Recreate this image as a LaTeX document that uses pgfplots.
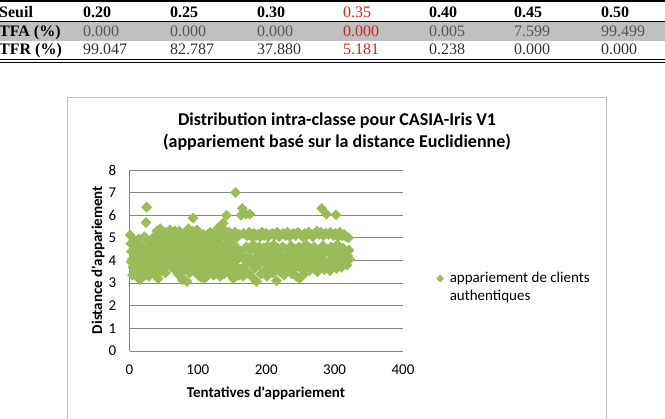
\documentclass[border=0pt]{standalone}
\usepackage{fontspec}
\setmainfont{Liberation Serif}
\newfontfamily\calibri{Carlito}
\usepackage{pgfplots}
\pgfplotsset{compat=1.18}
\definecolor{mk}{RGB}{155,187,89}
\definecolor{gridc}{RGB}{134,134,134}
\definecolor{bandc}{RGB}{191,191,191}
\definecolor{redt}{RGB}{200,40,40}
\definecolor{framec}{RGB}{190,190,190}
\begin{document}
\begin{tikzpicture}[x=1pt,y=1pt]
\useasboundingbox (0,0) rectangle (665,-419);
% ---- table ----
\fill[bandc] (0,-21.5) rectangle (665,-41);
\draw[line width=1.2pt] (0,-1) -- (665,-1);
\draw[line width=0.8pt] (0,-21.5) -- (665,-21.5);
\draw[line width=0.8pt] (0,-59.5) -- (665,-59.5);
\draw[line width=0.8pt] (0,-62) -- (665,-62);
\tikzset{tc/.style={anchor=base west, inner sep=0pt, font=\fontsize{16}{19}\selectfont}}
\node[tc] at (-1,-18) {\bfseries Seuil};
\node[tc] at (83,-18) {\bfseries 0.20};
\node[tc] at (170,-18) {\bfseries 0.25};
\node[tc] at (257,-18) {\bfseries 0.30};
\node[tc,text=redt] at (343,-18) {0.35};
\node[tc] at (429,-18) {\bfseries 0.40};
\node[tc] at (514,-18) {\bfseries 0.45};
\node[tc] at (601,-18) {\bfseries 0.50};
\node[tc] at (-1,-36.5) {\bfseries TFA (\%)};
\node[tc,text=black!65] at (83,-36.5) {0.000};
\node[tc,text=black!65] at (170,-36.5) {0.000};
\node[tc,text=black!65] at (257,-36.5) {0.000};
\node[tc,text=redt] at (343,-36.5) {0.000};
\node[tc,text=black!65] at (429,-36.5) {0.005};
\node[tc,text=black!65] at (514,-36.5) {7.599};
\node[tc,text=black!65] at (601,-36.5) {99.499};
\node[tc] at (-1,-55) {\bfseries TFR (\%)};
\node[tc,text=black!80] at (83,-55) {99.047};
\node[tc,text=black!80] at (170,-55) {82.787};
\node[tc,text=black!80] at (257,-55) {37.880};
\node[tc,text=redt] at (343,-55) {5.181};
\node[tc,text=black!80] at (429,-55) {0.238};
\node[tc,text=black!80] at (514,-55) {0.000};
\node[tc,text=black!80] at (601,-55) {0.000};
% ---- chart frame ----
\draw[framec, line width=0.8pt] (67,-97) rectangle (606,-470);
\node[anchor=base, inner sep=0pt, font=\calibri\bfseries\fontsize{18}{21}\selectfont] at (337,-126) {Distribution intra-classe pour CASIA-Iris V1};
\node[anchor=base, inner sep=0pt, font=\calibri\bfseries\fontsize{18}{21}\selectfont] at (337,-148) {(appariement basé sur la distance Euclidienne)};
\begin{axis}[
  at={(129.5pt,-351pt)}, anchor=south west,
  scale only axis, width=273.5pt, height=181pt,
  xmin=0, xmax=400, ymin=0, ymax=8,
  xtick={0,100,200,300,400}, ytick={0,1,2,3,4,5,6,7,8},
  axis x line*=bottom, axis y line*=left,
  axis line style={gridc, line width=0.8pt, -},
  major tick length=0pt,
  ymajorgrids, grid style={gridc, line width=0.8pt},
  tick label style={font=\calibri\fontsize{15}{17}\selectfont, inner sep=0pt},
  /pgf/number format/assume math mode=true,
  xticklabel style={anchor=north, yshift=-13.5pt},
  yticklabel style={anchor=east, xshift=-13pt},
  legend cell align=left,
  legend style={at={(rel axis cs:1.1225,0.44)}, anchor=north west, draw=none, fill=none, inner sep=0pt,
    font=\calibri\fontsize{15}{17}\selectfont, row sep=4pt, column sep=6pt,
    nodes={inner sep=0pt, text height=11pt, text depth=3pt}},
  legend image code/.code={\draw[#1, mark size=2.5pt] plot coordinates {(0.1cm,0cm)};},
]
\addplot[only marks, mark=square*, mark size=3.6pt, mark options={rotate=45, fill=mk, draw=mk}] coordinates {
(1,5.12) (2,4.75) (3,4.40) (4,4.05) (5,3.70) (6,4.62) (7,3.45) (8,4.20) (9,3.90) (10,4.85)
(11,3.30) (12,4.10) (13,3.60) (14,4.95) (15,3.15) (16,4.35) (17,3.80) (18,4.60) (19,3.50) (20,4.25)
(21,3.95) (22,5.05) (23,3.35) (24,5.68) (25,6.36) (26,4.50) (27,3.70) (28,4.15) (29,3.40) (30,4.80)
(31,3.85) (32,4.30) (33,3.55) (34,5.00) (35,4.05) (36,3.60) (37,4.70) (38,3.90) (39,4.45) (40,5.30)
(41,4.20) (42,3.20) (43,4.90) (44,4.55) (45,5.40) (46,3.95) (47,4.25) (48,5.15) (49,4.70) (50,3.65)
(51,4.40) (52,5.25) (53,4.00) (54,4.85) (55,3.80) (56,5.05) (57,4.30) (58,4.60) (59,5.35) (60,3.75)
(61,4.15) (62,4.95) (63,3.70) (64,4.45) (65,5.20) (66,4.05) (67,4.75) (68,3.55) (69,5.10) (70,4.35)
(71,3.40) (72,4.90) (73,5.30) (74,4.20) (75,3.30) (76,4.65) (77,3.15) (78,5.00) (79,3.95) (80,4.50)
(81,4.10) (82,5.25) (83,3.60) (84,3.07) (85,4.80) (86,5.40) (87,4.30) (88,3.45) (89,5.10) (90,4.60)
(91,3.85) (92,5.30) (93,5.87) (94,4.95) (95,4.15) (96,3.50) (97,5.05) (98,4.40) (99,3.75) (100,4.85)
(101,3.35) (102,5.20) (103,4.05) (104,4.55) (105,3.25) (106,4.90) (107,3.90) (108,5.15) (109,4.25) (110,3.20)
(111,4.70) (112,3.60) (113,5.00) (114,4.35) (115,3.40) (116,4.80) (117,3.80) (118,5.25) (119,4.50) (120,3.55)
(121,4.20) (122,5.10) (123,3.35) (124,4.65) (125,3.95) (126,5.30) (127,4.40) (128,3.70) (129,4.95) (130,5.45)
(131,3.50) (132,4.25) (133,4.75) (134,3.85) (135,5.20) (136,4.10) (137,5.65) (138,3.40) (139,4.55) (140,5.05)
(141,3.90) (142,6.00) (143,4.30) (144,3.60) (145,4.85) (146,5.25) (147,3.45) (148,4.15) (149,4.70) (150,3.75)
(151,5.15) (152,3.20) (153,4.45) (154,3.95) (155,7.00) (156,4.60) (157,3.55) (158,5.05) (159,4.20) (160,3.35)
(161,5.15) (162,3.60) (163,6.00) (164,4.40) (165,6.30) (166,3.30) (167,5.20) (168,4.05) (169,3.75) (170,6.05)
(171,4.60) (172,5.10) (173,3.45) (174,4.20) (175,5.25) (176,6.05) (177,3.90) (178,4.50) (179,5.05) (180,3.25)
(181,4.70) (182,5.20) (183,3.65) (184,4.10) (185,5.10) (186,3.07) (187,4.35) (188,5.15) (189,3.80) (190,4.60)
(191,5.05) (192,3.40) (193,4.25) (194,5.25) (195,3.95) (196,4.55) (197,5.10) (198,3.55) (199,4.15) (200,5.20)
(201,3.30) (202,4.65) (203,5.05) (204,3.85) (205,4.40) (206,5.15) (207,3.60) (208,4.00) (209,5.20) (210,3.45)
(211,4.70) (212,5.10) (213,3.75) (214,4.30) (215,3.10) (216,5.25) (217,4.55) (218,3.95) (219,5.05) (220,3.50)
(221,4.20) (222,5.15) (223,3.70) (224,4.60) (225,5.20) (226,3.35) (227,4.10) (228,5.10) (229,3.85) (230,4.45)
(231,5.25) (232,3.55) (233,4.30) (234,5.05) (235,3.90) (236,4.65) (237,5.15) (238,3.40) (239,4.05) (240,5.20)
(241,3.65) (242,4.50) (243,5.10) (244,3.30) (245,4.25) (246,5.25) (247,3.80) (248,4.60) (249,3.20) (250,5.15)
(251,4.15) (252,3.60) (253,5.05) (254,4.40) (255,3.95) (256,5.20) (257,3.45) (258,4.70) (259,5.10) (260,3.75)
(261,4.20) (262,5.25) (263,3.55) (264,4.55) (265,5.15) (266,3.90) (267,4.30) (268,5.05) (269,3.65) (270,4.60)
(271,5.20) (272,3.85) (273,4.10) (274,5.30) (275,3.50) (276,4.45) (277,5.15) (278,3.70) (279,4.25) (280,5.25)
(281,6.30) (282,3.95) (283,4.65) (284,5.10) (285,3.60) (286,4.35) (287,5.20) (288,6.05) (289,3.80) (290,4.50)
(291,5.15) (292,4.00) (293,3.55) (294,5.25) (295,4.60) (296,3.75) (297,4.20) (298,5.10) (299,3.90) (300,4.40)
(301,5.20) (302,6.02) (303,3.65) (304,4.70) (305,5.05) (306,4.05) (307,3.85) (308,5.25) (309,4.30) (310,3.70)
(311,5.10) (312,4.55) (313,3.95) (314,5.15) (315,4.00) (316,4.35) (317,5.05) (318,3.80) (319,4.20) (320,5.00)
(321,4.45) (322,4.05)
(2.5,3.95) (4.5,3.35) (6.5,4.90) (8.5,3.60) (10.5,4.30) (12.5,3.80) (14.5,4.50) (16.5,3.25) (18.5,4.05) (20.5,3.70)
(22.5,4.45) (24.5,3.55) (26.5,4.85) (28.5,3.30) (30.5,4.00) (32.5,3.75) (34.5,4.55) (36.5,3.40) (38.5,5.10) (40.5,3.85)
(42.5,4.60) (44.5,3.50) (46.5,5.20) (48.5,4.10) (50.5,4.95) (52.5,3.45) (54.5,4.20) (56.5,3.95) (58.5,4.75) (60.5,5.15)
(62.5,4.35) (64.5,3.85) (66.5,5.30) (68.5,4.50) (70.5,4.90) (72.5,3.65) (74.5,4.80) (76.5,4.00) (78.5,4.40) (80.5,3.60)
(82.5,4.65) (84.5,3.95) (86.5,4.55) (88.5,4.95) (90.5,3.55) (92.5,4.25) (94.5,3.65) (96.5,4.70) (98.5,5.35) (100.5,4.10)
(102.5,3.60) (104.5,5.05) (106.5,4.40) (108.5,3.50) (110.5,4.95) (112.5,4.20) (114.5,5.15) (116.5,3.95) (118.5,4.65) (120.5,5.05)
(122.5,4.30) (124.5,3.60) (126.5,4.85) (128.5,5.20) (130.5,4.00) (132.5,3.30) (134.5,4.50) (136.5,3.75) (138.5,5.35) (140.5,4.35)
(142.5,3.70) (144.5,5.05) (146.5,4.40) (148.5,3.35) (150.5,4.90) (152.5,3.85) (154.5,5.25) (156.5,4.00) (158.5,3.65)
(200.5,3.90) (210.5,4.10) (220.5,3.75) (230.5,4.05) (240.5,3.95) (250.5,3.85) (260.5,4.00) (270.5,3.95) (280.5,4.05) (290.5,3.85)
};
\addlegendentry{appariement de clients}
\addlegendimage{empty legend}
\addlegendentry{authentiques}
\end{axis}
\node[anchor=base, inner sep=0pt, font=\calibri\bfseries\fontsize{15}{17}\selectfont] at (266,-398) {Tentatives d'appariement};
\node[rotate=90, anchor=base, inner sep=0pt, font=\calibri\bfseries\fontsize{15}{17}\selectfont] at (102,-260) {Distance d'appariement};
\end{tikzpicture}
\end{document}
